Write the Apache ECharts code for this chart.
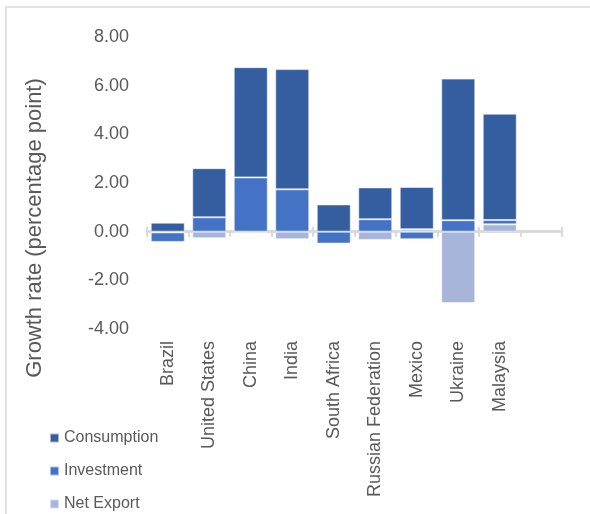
<!DOCTYPE html>
<html>
<head>
    <meta charset="UTF-8">
    <title>Growth rate contributions</title>
    <script src="https://cdn.jsdelivr.net/npm/echarts@6/dist/echarts.min.js"></script>
    <style>
        html, body { margin: 0; padding: 0; background: #fff; }
        #main { width: 590px; height: 514px; }
    </style>
</head>
<body>
<div id="main"></div>
<script type="text/javascript">
    // categories (last slot is empty in the original)
    var countries = ['Brazil', 'United States', 'China', 'India', 'South Africa',
        'Russian Federation', 'Mexico', 'Ukraine', 'Malaysia', ''];
    // values, percentage points
    var consumption = [0.37, 2.02, 4.53, 4.94, 1.12, 1.31, 1.74, 5.82, 4.37, null];
    var investment  = [-0.39, 0.59, 2.23, 1.74, -0.49, 0.51, -0.31, 0.47, 0.18, null];
    var netExport   = [-0.03, -0.27, -0.03, -0.31, 0.0, -0.34, 0.10, -2.93, 0.30, null];
    var yTicks = { min: -4, max: 8, step: 2 };

    var myChart = echarts.init(document.getElementById('main'));
    var font = 'Liberation Sans, Arial, sans-serif';
    var grey = '#595959';
    var axisGrey = '#d9d9d9';

    function barSeries(name, data, color) {
        return {
            name: name,
            type: 'bar',
            stack: 'a',
            xAxisIndex: 0,
            yAxisIndex: 0,
            barCategoryGap: '18%',
            itemStyle: {
                color: color,
                borderColor: 'rgba(255,255,255,0.55)',
                borderWidth: 1
            },
            data: data
        };
    }

    var hiddenY = {
        type: 'value',
        min: yTicks.min,
        max: yTicks.max,
        interval: yTicks.step,
        axisLine: { show: false },
        axisTick: { show: false },
        splitLine: { show: false },
        axisLabel: { show: false }
    };

    var option = {
        animation: false,
        textStyle: { fontFamily: font },
        graphic: [{
            type: 'rect',
            shape: { x: 6, y: 7, width: 620, height: 540 },
            style: { fill: null, stroke: axisGrey, lineWidth: 1.5 },
            silent: true
        }, {
            // y axis title, sits lower than the plot middle in the original
            type: 'text',
            x: 35,
            y: 228,
            rotation: Math.PI / 2,
            style: {
                text: 'Growth rate (percentage point)',
                fill: grey,
                font: '22px ' + font,
                textAlign: 'center',
                textVerticalAlign: 'middle'
            },
            silent: true
        }],
        legend: {
            orient: 'vertical',
            left: 49,
            top: 430,
            padding: 0,
            height: 120,
            itemWidth: 9,
            itemHeight: 9,
            itemGap: 17,
            icon: 'rect',
            textStyle: { color: grey, fontSize: 16, fontFamily: font },
            data: ['Consumption', 'Investment', 'Net Export']
        },
        grid: { left: 147, right: 28, top: 37, bottom: 185, containLabel: false, outerBoundsMode: 'none' },
        xAxis: [{
            type: 'category',
            data: countries,
            position: 'bottom',
            axisLine: { onZero: true, onZeroAxisIndex: 0, lineStyle: { color: axisGrey, width: 2.5 } },
            axisTick: { show: true, length: 5, lineStyle: { color: axisGrey, width: 2 } },
            axisLabel: {
                rotate: 90,
                margin: 12,
                interval: 0,
                color: grey,
                fontSize: 18,
                fontFamily: font
            }
        }, {
            // second axis on the zero line to get ticks crossing upward too
            type: 'category',
            data: countries,
            position: 'top',
            axisLine: { onZero: true, onZeroAxisIndex: 1, lineStyle: { color: axisGrey, width: 2.5 } },
            axisTick: { show: true, length: 5, lineStyle: { color: axisGrey, width: 2 } },
            axisLabel: { show: false }
        }],
        yAxis: [{
            type: 'value',
            min: yTicks.min,
            max: yTicks.max,
            interval: yTicks.step,
            axisLine: { show: false },
            axisTick: { show: false },
            splitLine: { show: false },
            axisLabel: {
                color: grey,
                fontSize: 18,
                margin: 18,
                fontFamily: font,
                formatter: function (v) { return v.toFixed(2); }
            }
        }, hiddenY],
        series: [
            barSeries('Net Export', netExport, '#A7B5DB'),
            barSeries('Investment', investment, '#4472C4'),
            barSeries('Consumption', consumption, '#355EA1')
        ]
    };
    myChart.setOption(option);
</script>
</body>
</html>
